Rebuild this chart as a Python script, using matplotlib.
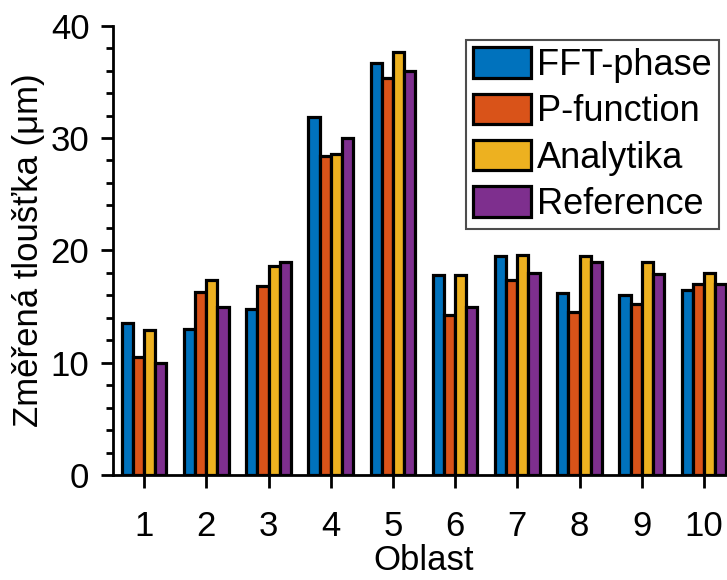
import numpy as np
import matplotlib.pyplot as plt
from matplotlib.ticker import MultipleLocator

plt.rcParams["font.family"] = ["Liberation Sans", "DejaVu Sans"]

oblast = np.arange(1, 11)
fft_phase  = [13.5, 13.0, 14.8, 31.9, 36.7, 17.8, 19.5, 16.2, 16.0, 16.5]
p_function = [10.5, 16.3, 16.8, 28.4, 35.3, 14.2, 17.4, 14.5, 15.2, 17.0]
analytika  = [12.9, 17.4, 18.6, 28.6, 37.7, 17.8, 19.6, 19.5, 19.0, 18.0]
reference  = [10.0, 15.0, 19.0, 30.0, 36.0, 15.0, 18.0, 19.0, 17.9, 17.0]

series = [fft_phase, p_function, analytika, reference]
names  = ["FFT-phase", "P-function", "Analytika", "Reference"]
colors = ["#0072BD", "#D95319", "#EDB120", "#7E2F8E"]

fig = plt.figure(figsize=(7.27, 5.80), dpi=100)
# axes run past the right edge, so the last group is clipped
ax = fig.add_axes([113 / 727, 105 / 580, 622 / 727, 449.3 / 580])

w = 0.18
for i, (vals, name, c) in enumerate(zip(series, names, colors)):
    ax.bar(oblast + (i - 1.5) * w, vals, width=w, color=c, edgecolor="black",
           linewidth=2.3, label=name, zorder=2)

ax.set_xlim(0.5, 10.5)
ax.set_ylim(0, 40)
ax.set_xticks(oblast)
ax.yaxis.set_major_locator(MultipleLocator(10))
ax.yaxis.set_minor_locator(MultipleLocator(2))

for s in ["top", "right"]:
    ax.spines[s].set_visible(False)
for s in ["left", "bottom"]:
    ax.spines[s].set_linewidth(2.0)

ax.tick_params(axis="both", which="major", direction="out", length=9, width=2.0,
               labelsize=25)
ax.tick_params(axis="y", which="major", pad=8)
ax.tick_params(axis="x", which="major", pad=16)
ax.tick_params(axis="y", which="minor", direction="out", length=5, width=2.0)

ax.set_xlabel("Oblast", fontsize=25, labelpad=1)
ax.set_ylabel("Změřená tloušťka (μm)", fontsize=25, labelpad=4)

leg = ax.legend(loc="upper right", bbox_to_anchor=(0.974, 0.968), borderaxespad=0,
                fontsize=26, handlelength=1.6, handleheight=0.91, labelspacing=0.3,
                handletextpad=0.17, borderpad=0.2, fancybox=False, framealpha=1)
leg.get_frame().set_edgecolor("0.3")
leg.get_frame().set_linewidth(1.5)

fig.savefig("out.png", dpi=100)
